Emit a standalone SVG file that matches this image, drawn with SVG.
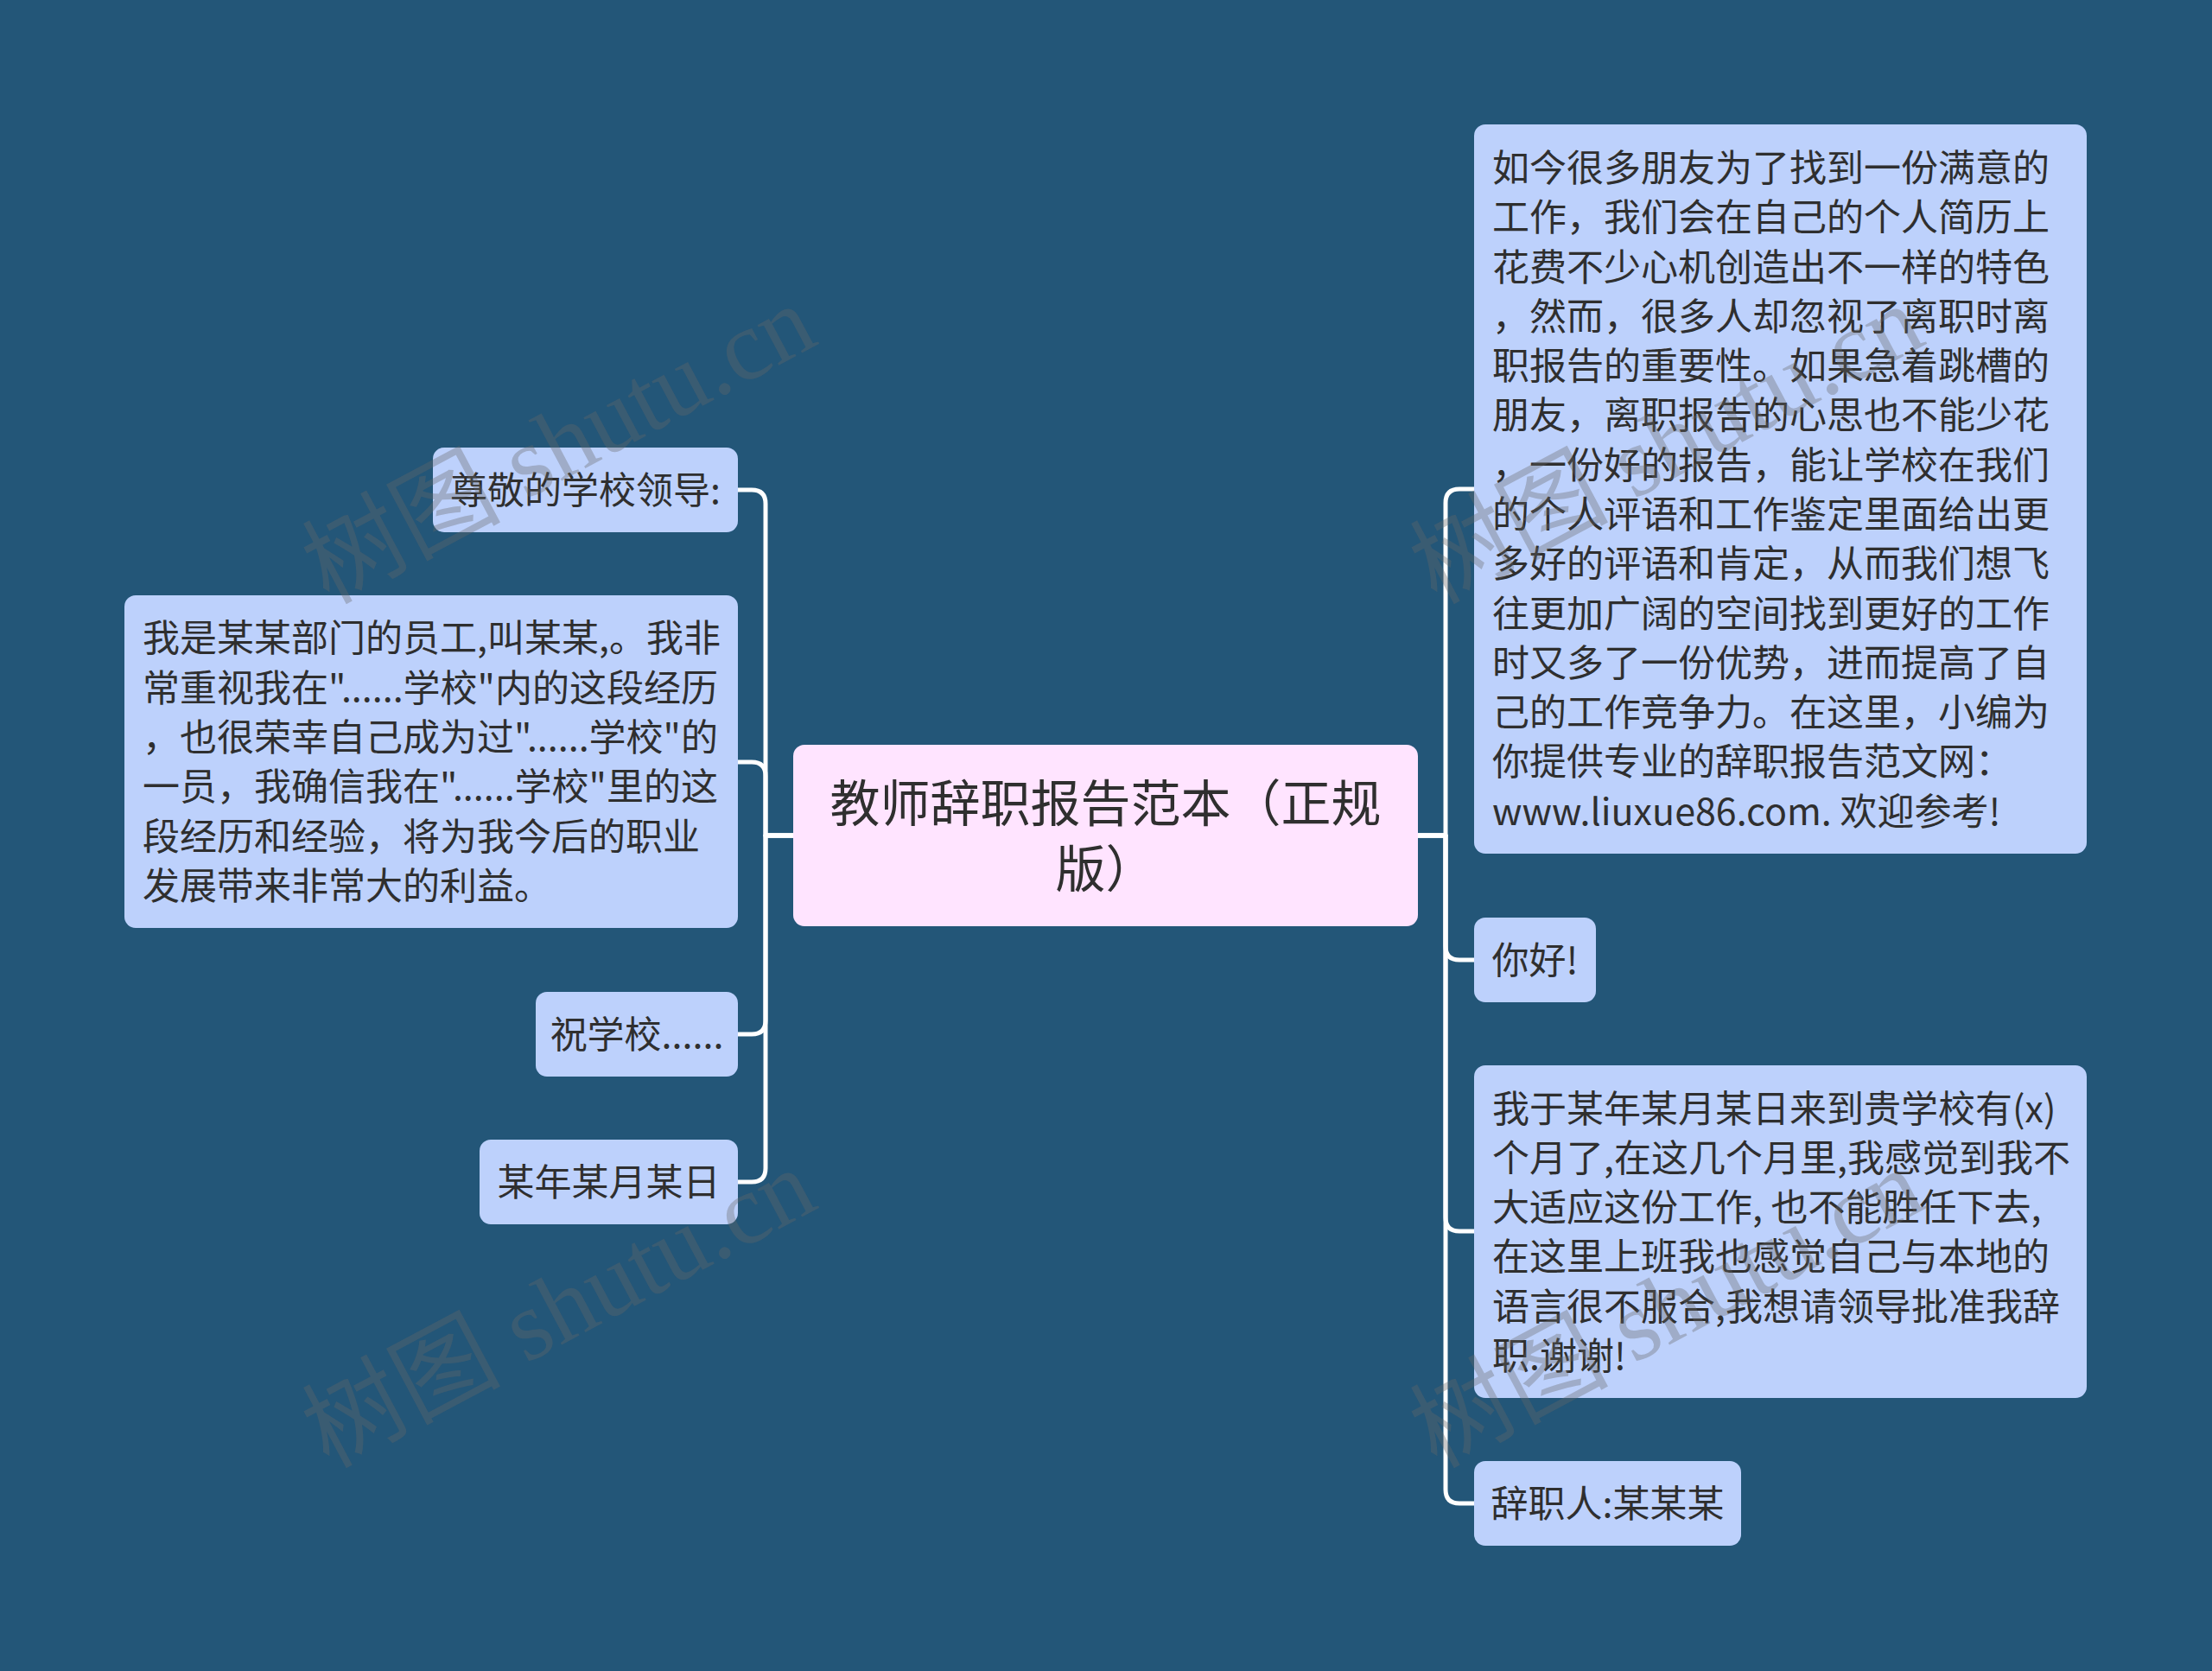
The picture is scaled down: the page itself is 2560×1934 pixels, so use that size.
<svg xmlns="http://www.w3.org/2000/svg" width="2560" height="1934" viewBox="0 0 2560 1934">
<defs>
<style>
.bg{fill:#235678}
.node rect{fill:#bdd1fc}
#center rect{fill:#ffe4ff}
.t{font-family:"Noto Sans CJK SC","Noto Sans",sans-serif;font-size:43px;fill:#2f2f2f}
.tc{font-family:"Noto Sans CJK SC","Noto Sans",sans-serif;font-size:58px;fill:#2f2f2f;text-anchor:middle}
.m{text-anchor:middle}
#connectors path{fill:none;stroke:#ffffff;stroke-width:5;stroke-linejoin:round}
.wm{font-family:"Liberation Serif","Noto Sans CJK SC",serif;font-size:115px;fill:#666666;fill-opacity:0.35}
</style>
</defs>
<rect class="bg" x="0" y="0" width="2560" height="1934"/>
<g id="connectors">
<path d="M918,967 H886 V583 Q886,567 870,567 H854"/>
<path d="M918,967 H886 V898 Q886,882 870,882 H854"/>
<path d="M918,967 H886 V1181 Q886,1197 870,1197 H854"/>
<path d="M918,967 H886 V1352 Q886,1368 870,1368 H854"/>
<path d="M1641,967 H1673 V582 Q1673,566 1689,566 H1706"/>
<path d="M1641,967 H1673 V1095 Q1673,1111 1689,1111 H1706"/>
<path d="M1641,967 H1673 V1409 Q1673,1425 1689,1425 H1706"/>
<path d="M1641,967 H1673 V1724 Q1673,1740 1689,1740 H1706"/>
</g>
<g id="center" class="node">
<rect x="918" y="862" width="723" height="210" rx="13"/>
<text class="tc" x="1279.5" y="951">教师辞职报告范本（正规</text>
<text class="tc" x="1279.5" y="1027">版）</text>
</g>
<g id="n-left1" class="node">
<rect x="501" y="518" width="353" height="98" rx="13"/>
<text class="t m" x="677.5" y="583">尊敬的学校领导:</text>
</g>
<g id="n-left2" class="node">
<rect x="144" y="689" width="710" height="385" rx="13"/>
<text class="t" x="165" y="754.3">我是某某部门的员工,叫某某,。我非<tspan x="165" dy="57.3">常重视我在"......学校"内的这段经历</tspan><tspan x="165" dy="57.3">，也很荣幸自己成为过"......学校"的</tspan><tspan x="165" dy="57.3">一员，我确信我在"......学校"里的这</tspan><tspan x="165" dy="57.3">段经历和经验，将为我今后的职业</tspan><tspan x="165" dy="57.3">发展带来非常大的利益。</tspan></text>
</g>
<g id="n-left3" class="node">
<rect x="620" y="1148" width="234" height="98" rx="13"/>
<text class="t m" x="737" y="1213">祝学校......</text>
</g>
<g id="n-left4" class="node">
<rect x="555" y="1319" width="299" height="98" rx="13"/>
<text class="t m" x="704.5" y="1384">某年某月某日</text>
</g>
<g id="n-right1" class="node">
<rect x="1706" y="144" width="709" height="844" rx="13"/>
<text class="t" x="1727" y="209.9">如今很多朋友为了找到一份满意的<tspan x="1727" dy="57.3">工作，我们会在自己的个人简历上</tspan><tspan x="1727" dy="57.3">花费不少心机创造出不一样的特色</tspan><tspan x="1727" dy="57.3">，然而，很多人却忽视了离职时离</tspan><tspan x="1727" dy="57.3">职报告的重要性。如果急着跳槽的</tspan><tspan x="1727" dy="57.3">朋友，离职报告的心思也不能少花</tspan><tspan x="1727" dy="57.3">，一份好的报告，能让学校在我们</tspan><tspan x="1727" dy="57.3">的个人评语和工作鉴定里面给出更</tspan><tspan x="1727" dy="57.3">多好的评语和肯定，从而我们想飞</tspan><tspan x="1727" dy="57.3">往更加广阔的空间找到更好的工作</tspan><tspan x="1727" dy="57.3">时又多了一份优势，进而提高了自</tspan><tspan x="1727" dy="57.3">己的工作竞争力。在这里，小编为</tspan><tspan x="1727" dy="57.3">你提供专业的辞职报告范文网：</tspan><tspan x="1727" dy="57.3">www.liuxue86.com. 欢迎参考!</tspan></text>
</g>
<g id="n-right2" class="node">
<rect x="1706" y="1062" width="141" height="98" rx="13"/>
<text class="t m" x="1776.5" y="1127">你好!</text>
</g>
<g id="n-right3" class="node">
<rect x="1706" y="1233" width="709" height="385" rx="13"/>
<text class="t" x="1727" y="1298.5">我于某年某月某日来到贵学校有(x)<tspan x="1727" dy="57.3">个月了,在这几个月里,我感觉到我不</tspan><tspan x="1727" dy="57.3">大适应这份工作, 也不能胜任下去,</tspan><tspan x="1727" dy="57.3">在这里上班我也感觉自己与本地的</tspan><tspan x="1727" dy="57.3">语言很不服合,我想请领导批准我辞</tspan><tspan x="1727" dy="57.3">职.谢谢!</tspan></text>
</g>
<g id="n-right4" class="node">
<rect x="1706" y="1691" width="309" height="98" rx="13"/>
<text class="t m" x="1860.5" y="1756">辞职人:某某某</text>
</g>
<g id="watermarks">
<text class="wm" transform="translate(380,700) rotate(-28)">树图 shutu.cn</text>
<text class="wm" transform="translate(380,1700) rotate(-28)">树图 shutu.cn</text>
<text class="wm" transform="translate(1662,700) rotate(-28)">树图 shutu.cn</text>
<text class="wm" transform="translate(1662,1700) rotate(-28)">树图 shutu.cn</text>
</g>
</svg>
